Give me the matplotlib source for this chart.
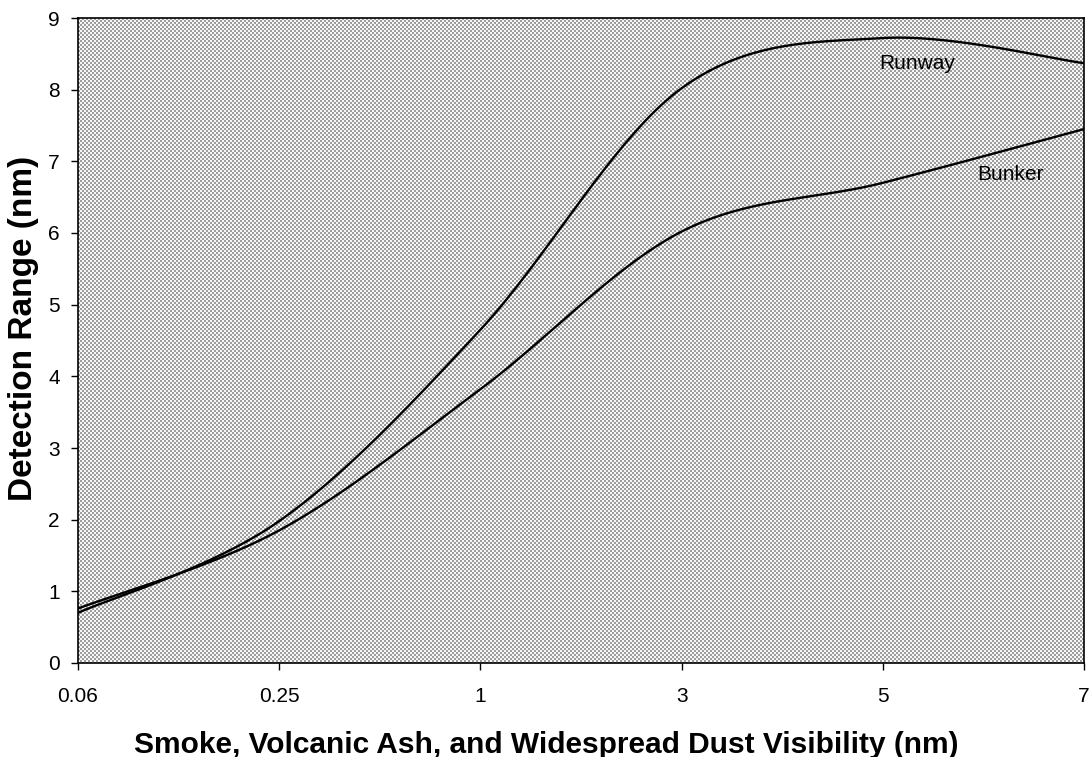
import numpy as np
import matplotlib.pyplot as plt

# data (categorical x axis, equally spaced)
visibility = ['0.06', '0.25', '1', '3', '5', '7']
runway = [0.70, 1.98, 4.65, 8.02, 8.72, 8.37]
bunker = [0.76, 1.85, 3.82, 6.02, 6.70, 7.45]

plt.rcParams.update({
    'font.family': ['Liberation Sans', 'DejaVu Sans'],
    'font.size': 15,
})


def excel_smooth(x, y, n=40):
    """Bezier smoothing like Excel's 'smoothed line' option."""
    x = np.asarray(x, float)
    y = np.asarray(y, float)
    px = np.concatenate([[x[0]], x, [x[-1]]])
    py = np.concatenate([[y[0]], y, [y[-1]]])
    xs, ys = [], []
    t = np.linspace(0, 1, n)[:, None]
    for i in range(1, len(x)):
        p_prev = np.array([px[i - 1], py[i - 1]])
        p0 = np.array([px[i], py[i]])
        p3 = np.array([px[i + 1], py[i + 1]])
        p_next = np.array([px[i + 2], py[i + 2]])
        c1 = p0 + (p3 - p_prev) / 6
        c2 = p3 - (p_next - p0) / 6
        b = (1 - t) ** 3 * p0 + 3 * (1 - t) ** 2 * t * c1 \
            + 3 * (1 - t) * t ** 2 * c2 + t ** 3 * p3
        xs.extend(b[:, 0])
        ys.extend(b[:, 1])
    return np.array(xs), np.array(ys)


W, H, DPI = 1089, 757, 100
fig = plt.figure(figsize=(W / DPI, H / DPI), dpi=DPI)
ax = fig.add_axes([78 / W, 94 / H, 1006 / W, 645 / H])
ax.set_facecolor('none')

# stippled plot area: 2px checker dither, pixel for pixel under the axes
bb = ax.get_window_extent()
pw, ph = int(round(bb.width)), int(round(bb.height))
yy, xx = np.mgrid[0:ph, 0:pw]
dots = ((xx // 2 + yy // 2) % 2 == 0)
tex = np.where(dots, 158, 246).astype(np.uint8)
tex = np.dstack([tex, tex, tex])
fig.figimage(tex, xo=int(round(bb.x0)), yo=int(round(bb.y0)), zorder=-1)

xi = np.arange(len(visibility))
for series in (runway, bunker):
    sx, sy = excel_smooth(xi, series)
    ax.plot(sx, sy, color='black', linewidth=1.7, zorder=3)

ax.text(3.98, 8.37, 'Runway', fontsize=15, ha='left', va='center', zorder=4)
ax.text(4.47, 6.81, 'Bunker', fontsize=15, ha='left', va='center', zorder=4)

ax.set_xlim(0, len(visibility) - 1)
ax.set_ylim(0, 9)
ax.set_xticks(xi)
ax.set_xticklabels(visibility)
ax.set_yticks(range(0, 10))
ax.tick_params(direction='out', length=5, width=1, labelsize=15)
ax.tick_params(axis='y', pad=8)
ax.tick_params(axis='x', pad=12)

for s in ax.spines.values():
    s.set_linewidth(1.2)

ax.set_xlabel('Smoke, Volcanic Ash, and Widespread Dust Visibility (nm)',
              fontsize=21.5, fontweight='bold')
ax.set_ylabel('Detection Range (nm)', fontsize=24, fontweight='bold')
ax.xaxis.set_label_coords(0.465, -0.105)
ax.yaxis.set_label_coords(-0.039, 0.519)

fig.savefig('out.png', dpi=DPI, facecolor='white')
